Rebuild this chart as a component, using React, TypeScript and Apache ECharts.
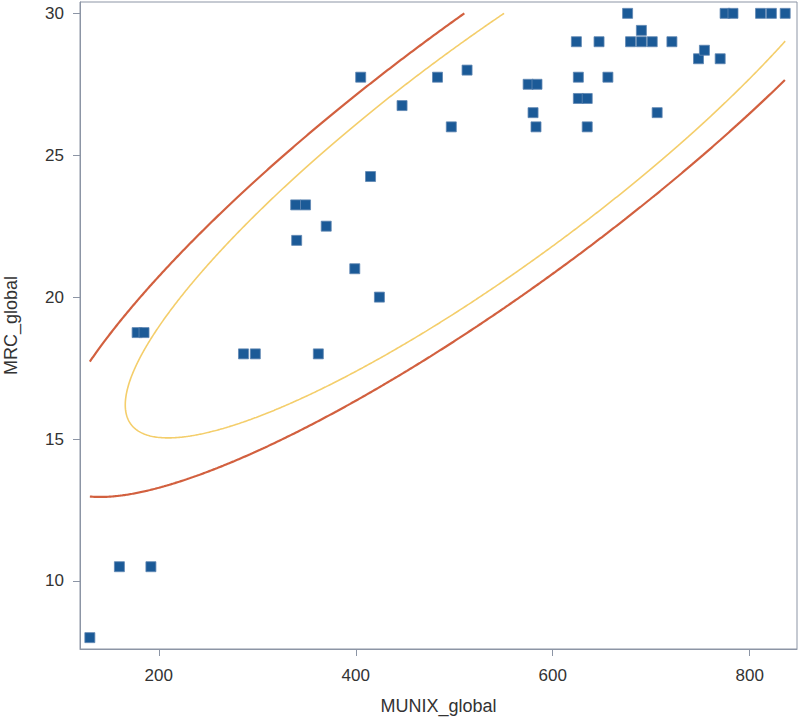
import React, { useEffect, useRef } from "react";
import * as echarts from "echarts";

// Scatter data (MUNIX_global vs MRC_global)
const munixGlobal = [
  130, 160, 192, 178, 185, 286, 298, 362, 339, 349,
  340, 370, 399, 424, 415, 405, 447, 483, 513, 497,
  575, 584, 580, 583, 624, 626, 626, 635, 635, 647,
  656, 676, 690, 679, 690, 701, 721, 706, 748, 754,
  770, 775, 783, 811, 822, 836,
];
const mrcGlobal = [
  8, 10.5, 10.5, 18.75, 18.75, 18, 18, 18, 23.25, 23.25,
  22, 22.5, 21, 20, 24.25, 27.75, 26.75, 27.75, 28, 26,
  27.5, 27.5, 26.5, 26, 29, 27.75, 27, 27, 26, 29,
  27.75, 30, 29.4, 29, 29, 29, 29, 26.5, 28.4, 28.7,
  28.4, 30, 30, 30, 30, 30,
];

const xTicks = [200, 400, 600, 800];
const yTicks = [10, 15, 20, 25, 30];
const xRange = [120, 848];
const yRange = [7.6, 30.4];

// Prediction-ellipse statistics
const ellipseCenter = [545, 25.16];
const ellipseCov = [41170, 973, 29.35]; // var(x), cov(x,y), var(y)
const ellipseLevels = [0.9, 0.8]; // outer (red), inner (yellow)
const ellipseColors = ["#D2603F", "#F4CE6B"];
const ellipseWidths = [2.2, 1.6];

function ellipseSegments(level: number, n: number) {
  const [mx, my] = ellipseCenter;
  const [sxx, sxy, syy] = ellipseCov;
  const m = n - 2;
  const f = (m / 2) * (Math.pow(1 - level, -2 / m) - 1);
  const c = ((2 * (n - 1) * (n + 1)) / (n * (n - 2))) * f;
  const r = Math.sqrt(c);
  const a = Math.sqrt(sxx);
  const b = sxy / a;
  const d = Math.sqrt(Math.max(syy - b * b, 0));
  // clip to the data extent, as the reference does
  const x0 = Math.min(...munixGlobal), x1 = Math.max(...munixGlobal);
  const y0 = Math.min(...mrcGlobal), y1 = Math.max(...mrcGlobal);
  const inside = (p: number[]) => p[0] >= x0 && p[0] <= x1 && p[1] >= y0 && p[1] <= y1;
  const cut = (p: number[], q: number[]) => {
    let s = 1;
    const dx = q[0] - p[0], dy = q[1] - p[1];
    if (q[0] > x1) s = Math.min(s, (x1 - p[0]) / dx);
    if (q[0] < x0) s = Math.min(s, (x0 - p[0]) / dx);
    if (q[1] > y1) s = Math.min(s, (y1 - p[1]) / dy);
    if (q[1] < y0) s = Math.min(s, (y0 - p[1]) / dy);
    return [p[0] + s * dx, p[1] + s * dy];
  };
  const steps = 1440;
  const pts: number[][] = [];
  for (let k = 0; k <= steps; k++) {
    const t = (2 * Math.PI * k) / steps;
    const u = Math.cos(t), v = Math.sin(t);
    pts.push([mx + r * a * u, my + r * (b * u + d * v)]);
  }
  const segs: number[][][] = [];
  let cur: number[][] | null = null;
  for (let k = 0; k < pts.length; k++) {
    const p = pts[k];
    if (inside(p)) {
      if (!cur) {
        cur = [];
        if (k > 0) cur.push(cut(p, pts[k - 1]));
      }
      cur.push(p);
    } else if (cur) {
      cur.push(cut(pts[k - 1], p));
      segs.push(cur);
      cur = null;
    }
  }
  if (cur) segs.push(cur);
  return segs;
}

const FONT = "'Liberation Sans', Arial, sans-serif";
const AXIS_COLOR = "#8C95A5";

export default function App() {
  const ref = useRef<HTMLDivElement>(null);
  useEffect(() => {
    if (!ref.current) return;
    const chart = echarts.init(ref.current, undefined, { renderer: "svg" });
    const points = munixGlobal.map((x, i) => [x, mrcGlobal[i]]);
    const ellipseSeries: any[] = [];
    ellipseLevels.forEach((lv, i) => {
      ellipseSegments(lv, munixGlobal.length).forEach((seg, j) => {
        ellipseSeries.push({
          type: "line",
          name: "ellipse" + lv + "_" + j,
          data: seg,
          showSymbol: false,
          symbol: "none",
          clip: true,
          z: 2,
          lineStyle: { color: ellipseColors[i], width: ellipseWidths[i] },
          silent: true,
        });
      });
    });
    chart.setOption({
      animation: false,
      backgroundColor: "#ffffff",
      grid: {
        left: 80,
        right: 3,
        top: 2,
        bottom: 71,
        show: true,
        borderColor: AXIS_COLOR,
        borderWidth: 1,
        backgroundColor: "transparent",
        outerBoundsMode: "none",
        containLabel: false,
      },
      xAxis: {
        type: "value",
        min: xRange[0],
        max: xRange[1],
        name: "MUNIX_global",
        nameLocation: "middle",
        nameGap: 48,
        nameTextStyle: { fontFamily: FONT, fontSize: 18, color: "#333333" },
        axisLine: { show: true, lineStyle: { color: AXIS_COLOR } },
        axisTick: {
          show: true,
          length: 7,
          customValues: xTicks,
          lineStyle: { color: AXIS_COLOR },
        },
        axisLabel: {
          customValues: xTicks,
          margin: 18,
          fontFamily: FONT,
          fontSize: 17,
          color: "#333333",
        },
        splitLine: { show: false },
      },
      yAxis: {
        type: "value",
        min: yRange[0],
        max: yRange[1],
        name: "MRC_global",
        nameLocation: "middle",
        nameGap: 60,
        nameRotate: 90,
        nameTextStyle: { fontFamily: FONT, fontSize: 18, color: "#333333" },
        axisLine: { show: true, lineStyle: { color: AXIS_COLOR } },
        axisTick: {
          show: true,
          length: 7,
          customValues: yTicks,
          lineStyle: { color: AXIS_COLOR },
        },
        axisLabel: {
          customValues: yTicks,
          margin: 16,
          fontFamily: FONT,
          fontSize: 17,
          color: "#333333",
        },
        splitLine: { show: false },
      },
      series: [
        ...ellipseSeries,
        {
          type: "scatter",
          name: "MRC_global",
          data: points,
          symbol: "rect",
          symbolSize: 10,
          z: 5,
          itemStyle: {
            color: "#1B5A97",
            borderColor: "#5F86B3",
            borderWidth: 0.8,
            opacity: 1,
          },
        },
      ],
    });
    return () => chart.dispose();
  }, []);
  return (
    <div
      ref={ref}
      style={{ position: "fixed", left: 0, top: 0, width: 800, height: 720 }}
    />
  );
}
